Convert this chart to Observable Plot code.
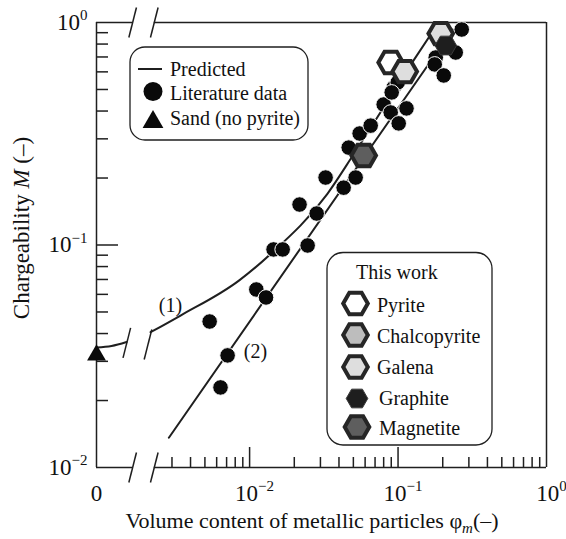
<!DOCTYPE html>
<html>
<head>
<meta charset="utf-8">
<script src="https://cdn.jsdelivr.net/npm/d3@7"></script>
<script src="https://cdn.jsdelivr.net/npm/@observablehq/plot@0.6"></script>
<style>
  html, body { margin: 0; padding: 0; background: #fff; }
  #chart { width: 566px; height: 539px; }
</style>
</head>
<body>
<div id="chart"></div>
<script>
// ---------------- data ----------------
// Literature data (black circles): volume content phi_m, chargeability M
const litPhi = [0.00538, 0.00711, 0.00637, 0.0111, 0.0129, 0.0145, 0.0167, 0.0246, 0.0217, 0.0283,
                0.0325, 0.0430, 0.0518, 0.0465, 0.0551, 0.0654, 0.0800, 0.0892, 0.101, 0.114,
                0.0935, 0.0995, 0.2685, 0.2446, 0.1794, 0.1766, 0.2031, 0.0906];
const litM   = [0.0453, 0.0319, 0.0229, 0.0631, 0.0581, 0.0955, 0.0955, 0.0995, 0.152, 0.1385,
                0.201, 0.181, 0.201, 0.274, 0.317, 0.344, 0.428, 0.394, 0.352, 0.411,
                0.510, 0.538, 0.930, 0.733, 0.696, 0.648, 0.578, 0.485];

// This work (hexagons)
const workMineral = ["Pyrite", "Galena", "Galena", "Magnetite", "Graphite"];
const workPhi     = [0.0892, 0.1109, 0.1939, 0.0587, 0.2096];
const workM       = [0.661, 0.602, 0.892, 0.2525, 0.788];

// Sand (no pyrite)
const sandPhi = [0];
const sandM   = [0.032];

// Predicted curve (1): part left of the break (starting at phi = 0) and main part
const curve1LeftPhi = [0, 0.001175, 0.001483];
const curve1LeftM   = [0.0346, 0.03516, 0.03664];
const curve1Phi = [0.002153, 0.003426, 0.008472, 0.01387, 0.03342, 0.05047, 0.1250, 0.1879];
const curve1M   = [0.04055, 0.04820, 0.06918, 0.09120, 0.1698, 0.2570, 0.6637, 1.0];

// Predicted line (2)
const curve2Phi = [0.002858, 0.2335];
const curve2M   = [0.01360, 0.930];

// Curve labels
const curveLabels   = ["(1)", "(2)"];
const curveLabelPhi = [0.00293, 0.01096];
const curveLabelM   = [0.0535, 0.0333];

// Axis breaks (x positions) and curve-(1) break marks
const axisBreakPhi  = [0.00163, 0.00228];
const curveBreakPhi = [0.001489, 0.002068];
const curveBreakM   = [0.03634, 0.03571];

// Ticks
const xMajorTicks = [0.01, 0.1];
const xMinorTicks = [0.003, 0.004, 0.005, 0.006, 0.007, 0.008, 0.009,
                     0.02, 0.03, 0.04, 0.05, 0.06, 0.07, 0.08, 0.09,
                     0.2, 0.3, 0.4, 0.5, 0.6, 0.7, 0.8, 0.9];
const xLabelTicks = [0.01, 0.1, 1];
const yMajorTicks = [0.01, 0.1, 1];
const yMinorTicks = [0.02, 0.03, 0.04, 0.05, 0.06, 0.07, 0.08, 0.09,
                     0.2, 0.3, 0.4, 0.5, 0.6, 0.7, 0.8, 0.9];
const zeroLabel = ["0"];

const legend1Labels = ["Predicted", "Literature data", "Sand (no pyrite)"];
const legend2Title  = "This work";
const legend2Labels = ["Pyrite", "Chalcopyrite", "Galena", "Graphite", "Magnetite"];

// ---------------- layout / style ----------------
const FONT = "'Liberation Serif', 'Times New Roman', Times, serif";
const INK = "#1f1f1f";
const W = 566, H = 539, ML = 96, MR = 20, MT = 22, MB = 72;
const XMIN = 9.304e-4;                    // position used for phi = 0 (left edge)
const DX = (W - ML - MR) / Math.log10(1 / XMIN);  // px per decade (x)
const DY = (H - MT - MB) / 2;                     // px per decade (y)
const fx = px => Math.pow(10, px / DX);
const fy = px => Math.pow(10, px / DY);
const at0 = v => v === 0 ? XMIN : v;

const mineralStyle = {
  Pyrite:       {fill: "#ffffff", stroke: "#262626", sw: 4,   r: 12.3},
  Chalcopyrite: {fill: "#bdbdbd", stroke: "#262626", sw: 4,   r: 12.3},
  Galena:       {fill: "#dedede", stroke: "#262626", sw: 4,   r: 12.3},
  Graphite:     {fill: "#1e1e1e", stroke: "#3a3a3a", sw: 1,   r: 10.8},
  Magnetite:    {fill: "#5e5e5e", stroke: "#262626", sw: 4,   r: 12.3}
};

// flat-topped hexagon symbol
const hexFlat = {
  draw(ctx, size) {
    const R = Math.sqrt(size / Math.PI);
    for (let i = 0; i < 6; i++) {
      const a = i * Math.PI / 3;
      const x = R * Math.cos(a), y = R * Math.sin(a);
      if (i === 0) ctx.moveTo(x, y); else ctx.lineTo(x, y);
    }
    ctx.closePath();
  }
};

// ---------------- tables ----------------
const lit = litPhi.map((p, i) => ({phi: p, M: litM[i]}));
const work = workPhi.map((p, i) => ({phi: p, M: workM[i], mineral: workMineral[i]}));
const sand = sandPhi.map((p, i) => ({phi: p, M: sandM[i]}));
const c1L = curve1LeftPhi.map((p, i) => ({phi: p, M: curve1LeftM[i]}));
const c1 = curve1Phi.map((p, i) => ({phi: p, M: curve1M[i]}));
const c2 = curve2Phi.map((p, i) => ({phi: p, M: curve2M[i]}));
const labs = curveLabels.map((t, i) => ({t, phi: curveLabelPhi[i], M: curveLabelM[i]}));

const frameH = [
  {y: 0.01, x1: XMIN, x2: axisBreakPhi[0]}, {y: 0.01, x1: axisBreakPhi[1], x2: 1},
  {y: 1, x1: XMIN, x2: axisBreakPhi[0]},    {y: 1, x1: axisBreakPhi[1], x2: 1}
];
const slashCenters = [
  ...axisBreakPhi.flatMap(b => [{x: b, y: 0.01}, {x: b, y: 1}]),
  ...curveBreakPhi.map((b, i) => ({x: b, y: curveBreakM[i]}))
];
const slashes = slashCenters.map(s => ({
  x1: s.x / fx(3.8), y1: s.y / fy(15), x2: s.x * fx(3.8), y2: s.y * fy(15)
}));

const powFmt = d => {
  const e = Math.round(Math.log10(d));
  return "10^" + (e < 0 ? "−" + (-e) : String(e));
};

const marks = [
  // predicted curves
  Plot.line(c1L, {x: d => at0(d.phi), y: "M", curve: "monotone-x", stroke: INK, strokeWidth: 2}),
  Plot.line(c1, {x: "phi", y: "M", curve: "monotone-x", stroke: INK, strokeWidth: 2}),
  Plot.line(c2, {x: "phi", y: "M", stroke: INK, strokeWidth: 2}),
  // frame with breaks
  Plot.ruleX([XMIN, 1], {stroke: INK, strokeWidth: 1.5}),
  Plot.ruleY(frameH, {y: "y", x1: "x1", x2: "x2", stroke: INK, strokeWidth: 1.5}),
  Plot.link(slashes, {x1: "x1", y1: "y1", x2: "x2", y2: "y2", stroke: INK, strokeWidth: 1.5}),
  // ticks (inward)
  Plot.axisX({ticks: xMinorTicks, tickSize: -10, tickFormat: () => "", label: null, stroke: INK, strokeWidth: 1.5}),
  Plot.axisX({ticks: xMajorTicks, tickSize: -20, tickFormat: () => "", label: null, stroke: INK, strokeWidth: 1.5}),
  Plot.axisY({ticks: yMinorTicks, tickSize: -12, tickFormat: () => "", label: null, stroke: INK, strokeWidth: 1.5}),
  Plot.axisY({ticks: [0.1], tickSize: -22, tickFormat: () => "", label: null, stroke: INK, strokeWidth: 1.5}),
  // tick labels
  Plot.axisX({ticks: xLabelTicks, tickSize: 0, tickPadding: 17, dx: 5, fontSize: 23, label: null,
              tickFormat: powFmt, fill: "#111"}),
  Plot.text(zeroLabel, {x: XMIN, text: d => d, frameAnchor: "bottom", lineAnchor: "top",
              dy: 17, fontSize: 23, fill: "#111"}),
  Plot.axisY({ticks: yMajorTicks, tickSize: 0, tickPadding: 9, fontSize: 23, label: null,
              tickFormat: powFmt, fill: "#111"}),
  // literature data
  Plot.dot(lit, {x: "phi", y: "M", r: 7.8, fill: "#0a0a0a", stroke: "#fff", strokeWidth: 1}),
  // this work
  ...["Pyrite", "Chalcopyrite", "Magnetite", "Galena", "Graphite"].map(m => {
    const s = mineralStyle[m];
    return Plot.dot(work.filter(d => d.mineral === m), {
      x: "phi", y: "M", symbol: hexFlat, r: s.r, fill: s.fill, stroke: s.stroke, strokeWidth: s.sw
    });
  }),
  // sand
  Plot.dot(sand, {x: d => at0(d.phi), y: "M", symbol: "triangle", r: 7, fill: "#0a0a0a"}),
  // curve labels
  Plot.text(labs, {x: "phi", y: "M", text: "t", fontSize: 20, fill: "#111"})
];

const plot = Plot.plot({
  width: W, height: H,
  marginLeft: ML, marginRight: MR, marginTop: MT, marginBottom: MB,
  x: {type: "log", domain: [XMIN, 1]},
  y: {type: "log", domain: [0.01, 1]},
  style: {fontFamily: FONT, background: "#fff", color: "#111", overflow: "visible"},
  marks
});

const svg = d3.select(plot);
svg.attr("font-family", FONT);

// superscripts on tick labels
svg.selectAll("text").filter(function () { return /^10\^/.test(this.textContent); })
  .each(function () {
    const exp = this.textContent.slice(3);
    const t = d3.select(this);
    t.text("10");
    t.append("tspan").attr("font-size", 15).attr("dy", -9.5).text(exp);
  });

// axis titles
const xt = svg.append("text")
  .attr("x", 312).attr("y", 528).attr("text-anchor", "middle")
  .attr("font-size", 22).attr("fill", "#111");
xt.append("tspan").text("Volume content of metallic particles φ");
xt.append("tspan").attr("font-style", "italic").attr("font-size", 15).attr("dy", 5).text("m");
xt.append("tspan").attr("dy", -5).text("(–)");

const yt = svg.append("text")
  .attr("transform", "translate(29,228) rotate(-90)").attr("text-anchor", "middle")
  .attr("font-size", 23).attr("fill", "#111");
yt.append("tspan").text("Chargeability ");
yt.append("tspan").attr("font-style", "italic").text("M");
yt.append("tspan").text(" (–)");

// hexagon path for legends
function hexPath(R) {
  const p = d3.path();
  for (let i = 0; i < 6; i++) {
    const a = i * Math.PI / 3;
    const x = R * Math.cos(a), y = R * Math.sin(a);
    if (i === 0) p.moveTo(x, y); else p.lineTo(x, y);
  }
  p.closePath();
  return p.toString();
}

// legend 1
const g1 = svg.append("g").attr("font-size", 20).attr("fill", "#111").attr("text-anchor", "start");
g1.append("rect").attr("x", 130).attr("y", 47).attr("width", 178).attr("height", 93)
  .attr("rx", 15).attr("fill", "#fff").attr("stroke", INK).attr("stroke-width", 1.3);
g1.append("line").attr("x1", 138).attr("x2", 162).attr("y1", 69).attr("y2", 69)
  .attr("stroke", INK).attr("stroke-width", 2);
g1.append("circle").attr("cx", 153).attr("cy", 91.5).attr("r", 9.5).attr("fill", "#0a0a0a");
g1.append("path").attr("transform", "translate(153,122)")
  .attr("d", d3.symbol(d3.symbolTriangle, 187)()).attr("fill", "#0a0a0a");
[75.5, 100, 125].forEach((yy, i) => {
  g1.append("text").attr("x", 170).attr("y", yy).attr("text-anchor", "start").text(legend1Labels[i]);
});

// legend 2
const g2 = svg.append("g").attr("font-size", 20).attr("fill", "#111").attr("text-anchor", "start");
g2.append("rect").attr("x", 327).attr("y", 252.5).attr("width", 165).attr("height", 192.5)
  .attr("rx", 16).attr("fill", "#fff").attr("stroke", INK).attr("stroke-width", 1.3);
g2.append("text").attr("x", 356).attr("y", 279).attr("text-anchor", "start").text(legend2Title);
const l2y = [303.5, 335, 367, 398.5, 427];
const l2ty = [312, 343, 374, 405, 435];
const l2tx = [377, 377, 377, 379, 379];
legend2Labels.forEach((m, i) => {
  const s = mineralStyle[m];
  g2.append("path").attr("transform", `translate(${i < 3 ? 355.5 : 357},${l2y[i]})`)
    .attr("d", hexPath(s.r)).attr("fill", s.fill).attr("stroke", s.stroke)
    .attr("stroke-width", s.sw).attr("stroke-linejoin", "miter");
  g2.append("text").attr("x", l2tx[i]).attr("y", l2ty[i]).attr("text-anchor", "start").text(m);
});

document.getElementById("chart").appendChild(plot);
</script>
</body>
</html>
